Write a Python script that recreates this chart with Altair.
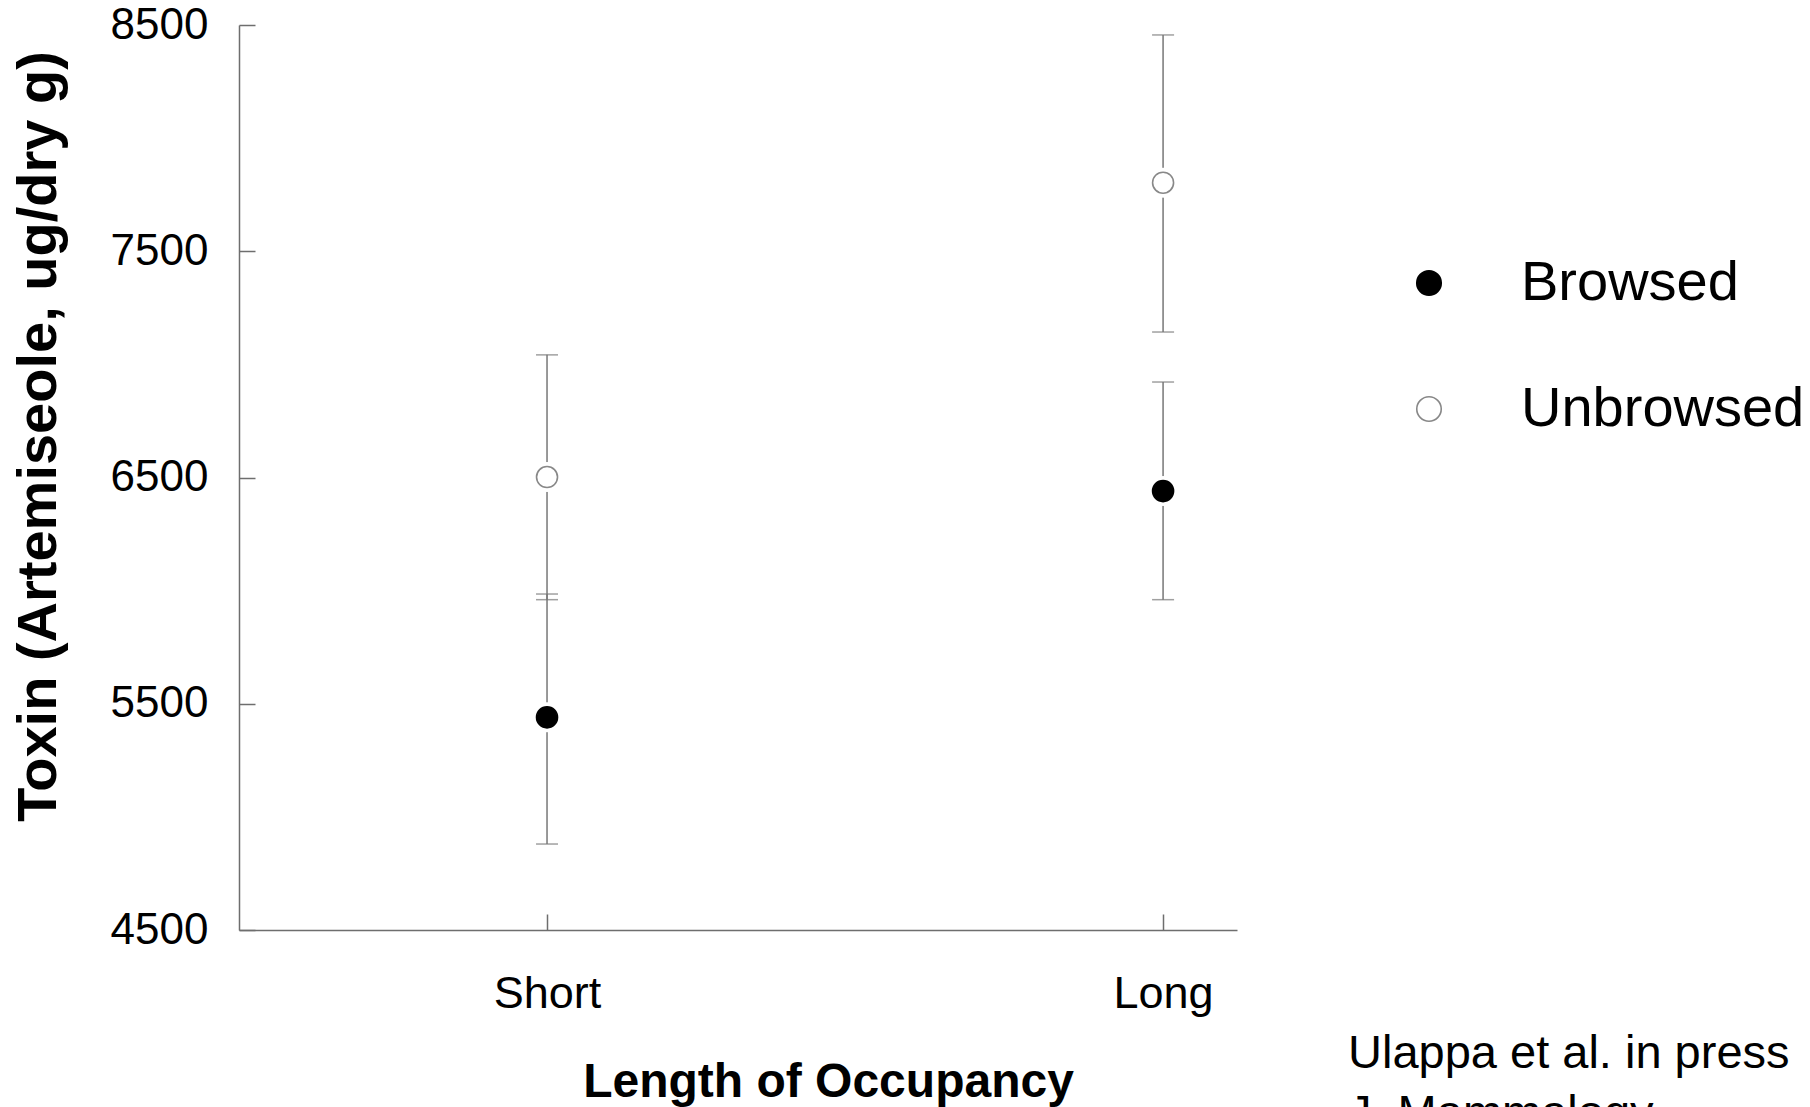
import altair as alt
import pandas as pd

# ---- data ----
categories = ["Short", "Long"]
groups = ["Browsed", "Unbrowsed"]
browsed_mean = [5440, 6440]
browsed_lo = [4880, 5960]
browsed_hi = [5985, 6922]
unbrowsed_mean = [6502, 7803]
unbrowsed_lo = [5960, 7143]
unbrowsed_hi = [7042, 8456]
y_ticks = [4500, 5500, 6500, 7500, 8500]
citation = ["Ulappa et al. in press", " J. Mammalogy"]

rows = []
for i, c in enumerate(categories):
    rows.append(dict(cat=c, pos=i + 1, group="Browsed",
                     mean=browsed_mean[i], lo=browsed_lo[i], hi=browsed_hi[i]))
    rows.append(dict(cat=c, pos=i + 1, group="Unbrowsed",
                     mean=unbrowsed_mean[i], lo=unbrowsed_lo[i], hi=unbrowsed_hi[i]))
df = pd.DataFrame(rows)

W, H = 998, 905
AX = "#6e6e6e"
BAR = "#777777"
SANS = "Liberation Sans, Arial, Helvetica, sans-serif"
NARROW = "Liberation Sans Narrow, Arial Narrow, Liberation Sans, sans-serif"

xscale = alt.Scale(domain=[0.5, 2.12], nice=False, zero=False)
yscale = alt.Scale(domain=[4500, 8500], nice=False, zero=False)

label_expr = "datum.value == 1 ? '%s' : (datum.value == 2 ? '%s' : '')" % (categories[0], categories[1])

x_main = alt.X("pos:Q", scale=xscale, axis=alt.Axis(
    values=[1, 2], labelExpr=label_expr, ticks=False, tickSize=0, grid=False,
    domainColor=AX, domainWidth=1.5,
    labelFont=SANS, labelFontSize=45, labelColor="black",
    labelBaseline="alphabetic", labelPadding=77,
    title="Length of Occupancy", titleFont=SANS, titleFontSize=48, titleFontWeight="bold",
    titleColor="black", titleX=589, titleY=166, titleAlign="center", titleBaseline="alphabetic"))
y_main = alt.Y("mean:Q", scale=yscale, axis=alt.Axis(
    values=y_ticks, format="d", ticks=False, tickSize=0, grid=False,
    domainColor=AX, domainWidth=1.5,
    labelFont=NARROW, labelFontSize=44, labelColor="black", labelPadding=31,
    labelBaseline="middle",
    title="Toxin (Artemiseole, ug/dry g)", titleFont=SANS, titleFontSize=56,
    titleFontWeight="bold", titleColor="black", titleAngle=270,
    titleX=-201, titleY=411, titleAlign="center", titleBaseline="middle"))

X_PLAIN = alt.X("pos:Q", scale=xscale, axis=None)

# error bar stems and caps
stems = alt.Chart(df).mark_rule(color=BAR, strokeWidth=1.5).encode(
    x=X_PLAIN, y=alt.Y("lo:Q", scale=yscale, axis=None), y2="hi:Q")
caps_lo = alt.Chart(df).mark_tick(orient="horizontal", size=22, thickness=1.5, color=BAR).encode(
    x=X_PLAIN, y=alt.Y("lo:Q", scale=yscale, axis=None))
caps_hi = alt.Chart(df).mark_tick(orient="horizontal", size=22, thickness=1.5, color=BAR).encode(
    x=X_PLAIN, y=alt.Y("hi:Q", scale=yscale, axis=None))

# white halo to break the stem around each marker
halo = alt.Chart(df).mark_point(shape="circle", filled=True, color="white", size=900, opacity=1).encode(
    x=X_PLAIN, y=alt.Y("mean:Q", scale=yscale, axis=None))

legend = alt.Legend(title=None, orient="none", legendX=1162, legendY=230,
                    labelFont=SANS, labelFontSize=56, labelColor="black", labelLimit=500,
                    labelOffset=64, rowPadding=70, symbolSize=600,
                    symbolStrokeWidth=1.6, padding=0)
points = alt.Chart(df).mark_point(shape="circle", size=441, strokeWidth=1.6, opacity=1).encode(
    x=X_PLAIN,
    y=alt.Y("mean:Q", scale=yscale, axis=None),
    fill=alt.Fill("group:N", scale=alt.Scale(domain=groups, range=["black", "white"]), legend=legend),
    stroke=alt.Stroke("group:N", scale=alt.Scale(domain=groups, range=["black", "#888888"]), legend=legend),
)

# inward-pointing ticks (R style) drawn by secondary axes on the opposite edges
inner = alt.Chart(df).mark_point(opacity=0).encode(
    x=alt.X("pos:Q", scale=xscale, axis=alt.Axis(
        orient="top", offset=-H, values=[1, 2], labels=False, domain=False, grid=False,
        ticks=True, tickSize=16, tickColor=AX, tickWidth=1.5, title="")),
    y=alt.Y("mean:Q", scale=yscale, axis=alt.Axis(
        orient="right", offset=-W, values=y_ticks, labels=False, domain=False, grid=False,
        ticks=True, tickSize=16, tickColor=AX, tickWidth=1.5, title="")),
)

base_axes = alt.Chart(df).mark_point(opacity=0).encode(x=x_main, y=y_main)

cite = alt.Chart(alt.Data(values=[{"k": 0}])).mark_text(
    text=citation, align="left", baseline="alphabetic", font=SANS, fontSize=47,
    lineHeight=60, color="black").encode(x=alt.value(1109), y=alt.value(1043))

chart = alt.layer(base_axes, inner, stems, caps_lo, caps_hi, halo, points, cite).resolve_axis(
    x="independent", y="independent").properties(
    width=W, height=H, background="white",
    autosize=alt.AutoSizeParams(type="none"),
    padding={"left": 239, "top": 25, "right": 573, "bottom": 177},
).configure_view(stroke="transparent", strokeWidth=0)

chart.save("out.html", embed_options={"renderer": "svg", "actions": False})
